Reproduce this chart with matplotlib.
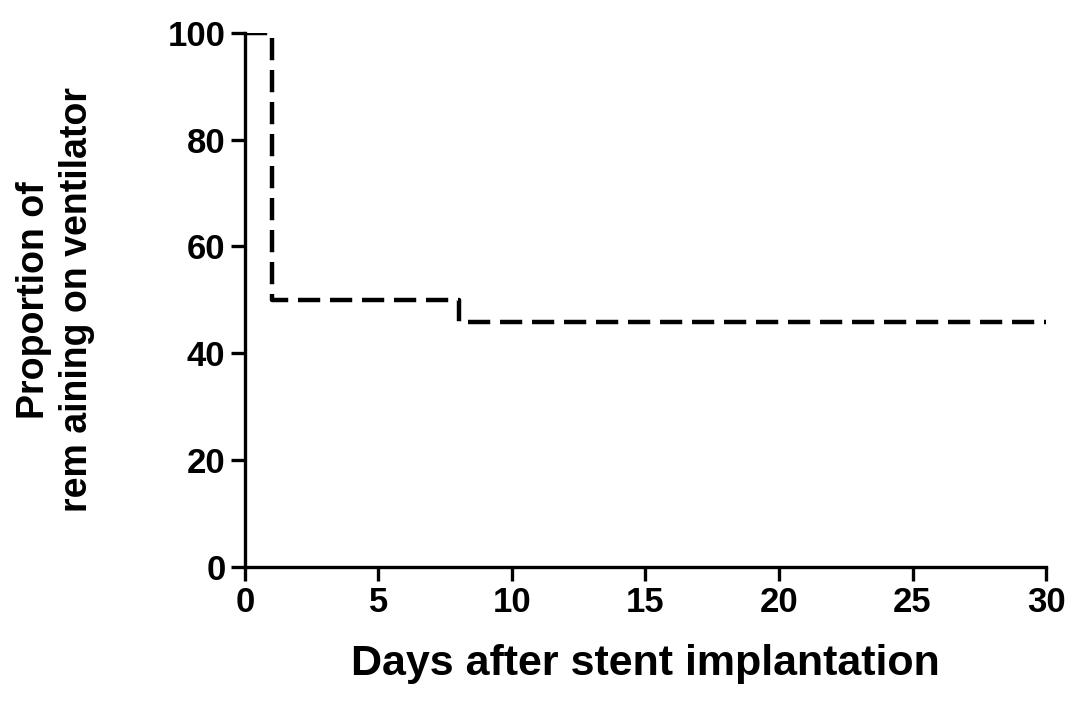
import matplotlib
matplotlib.use('Agg')
import matplotlib.pyplot as plt

plt.rcParams['font.family'] = ['Liberation Sans', 'DejaVu Sans']
plt.rcParams['font.weight'] = 'bold'

# Kaplan-Meier style step data (days, percent remaining on ventilator)
days = [0, 1, 8, 30]
remaining = [100, 50, 45.8, 45.8]

xticks = [0, 5, 10, 15, 20, 25, 30]
yticks = [0, 20, 40, 60, 80, 100]

fig = plt.figure(figsize=(10.74, 7.13), dpi=100)
ax = fig.add_axes([0.228, 0.205, 0.746, 0.749])

ax.step(days, remaining, where='post', color='black', lw=3.2,
        dashes=(5, 2.2))
ax.plot([0, 0.75], [100, 100], color='black', lw=2.2, solid_capstyle='butt')

ax.set_xlim(0, 30)
ax.set_ylim(0, 100)
ax.set_xticks(xticks)
ax.set_yticks(yticks)
ax.tick_params(direction='out', length=10, width=2.4, labelsize=25, pad=4)
for lab in ax.get_xticklabels() + ax.get_yticklabels():
    lab.set_fontweight('bold')

ax.spines['top'].set_visible(False)
ax.spines['right'].set_visible(False)
for s in ('left', 'bottom'):
    ax.spines[s].set_linewidth(2.4)

ax.set_xlabel('Days after stent implantation', fontsize=31, fontweight='bold',
              labelpad=18)
ax.set_ylabel('Proportion of\nrem aining on ventilator', fontsize=27,
              fontweight='bold', labelpad=52, linespacing=1.25)

fig.savefig('out.png', dpi=100, facecolor='white')
